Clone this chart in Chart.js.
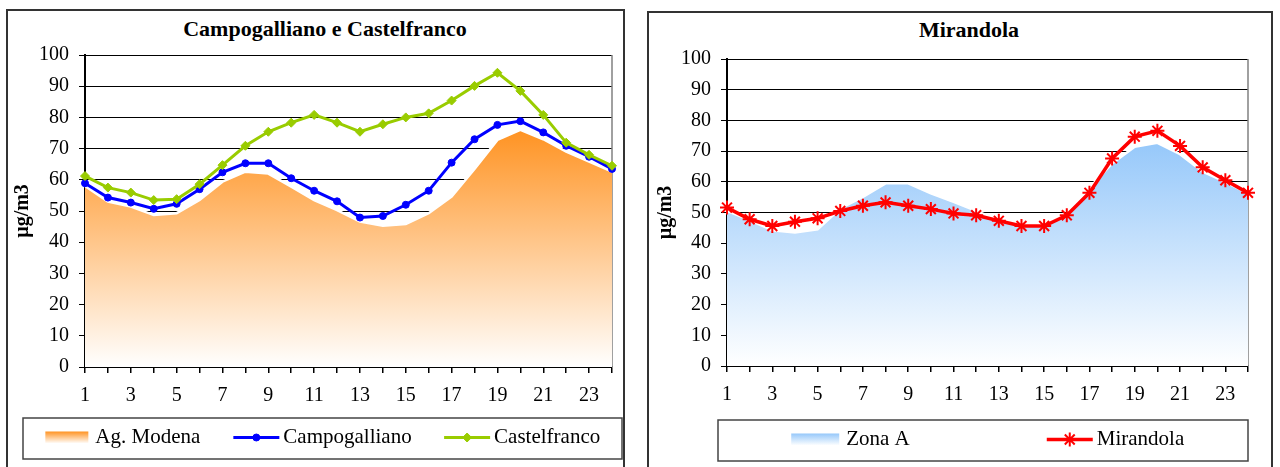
<!DOCTYPE html>
<html>
<head>
<meta charset="utf-8">
<script src="https://cdn.jsdelivr.net/npm/chart.js@4.4.1/dist/chart.umd.min.js"></script>
<style>
    body { margin: 0; background: #fff; width: 1280px; height: 467px; overflow: hidden; position: relative; font-family: "Liberation Serif", "Times New Roman", serif; }
    .frame { position: absolute; border: 2px solid #333; box-sizing: border-box; }
    #f1 { left: 6px; top: 9px; width: 619px; height: 480px; }
    #f2 { left: 647px; top: 11px; width: 626px; height: 480px; }
    canvas { position: absolute; top: 0; }
    #c1 { left: 0; }
    #c2 { left: 636px; }
    .title { position: absolute; font-weight: bold; font-size: 22px; line-height: 26px; white-space: nowrap; transform: translateX(-50%); color: #000; }
</style>
</head>
<body>
<div class="frame" id="f1"></div>
<div class="frame" id="f2"></div>
<div class="title" style="left:325px; top:16px;">Campogalliano e Castelfranco</div>
<div class="title" style="left:969px; top:17px;">Mirandola</div>
<canvas id="c1" width="636" height="467"></canvas>
<canvas id="c2" width="644" height="467"></canvas>
<script>
// hours of the day
const hours = ['1', '2', '3', '4', '5', '6', '7', '8', '9', '10', '11', '12', '13', '14', '15', '16', '17', '18', '19', '20', '21', '22', '23', '24'];

// left chart (µg/m3)
const agModena = [58, 53, 51.4, 48.7, 49.3, 53.5, 59.4, 62.6, 62, 57.8, 53.5, 50.3, 46.6, 45.3, 45.8, 49.3, 54.6, 63.5, 72.8, 76, 73, 69, 65.8, 62.6];
const campogalliano = [58.9, 54.3, 52.7, 50.7, 52.3, 57, 62.4, 65.3, 65.3, 60.5, 56.5, 53.1, 47.9, 48.4, 52, 56.5, 65.5, 73, 77.6, 78.8, 75.2, 70.9, 67.4, 63.5];
const castelfranco = [61.2, 57.5, 55.9, 53.5, 53.8, 58.6, 64.7, 70.9, 75.4, 78.3, 80.8, 78.3, 75.4, 77.8, 80, 81.3, 85.4, 90.1, 94.3, 88.5, 80.8, 71.9, 68, 64.5];

// right chart (µg/m3)
const zonaA = [50.5, 47.5, 44.2, 43.5, 44.5, 51.3, 55.1, 59.5, 59.5, 56.2, 53.5, 50.5, 47.5, 46, 45.5, 49.5, 58, 66, 71.4, 72.7, 69, 63.3, 60, 56.2];
const mirandola = [51.6, 47.8, 45.6, 47, 48.1, 50.5, 52.2, 53.3, 52.2, 51.1, 49.7, 49.1, 47.3, 45.6, 45.6, 49.1, 56.4, 67.6, 74.7, 76.6, 71.7, 64.7, 60.5, 56.4];

const yMin = 0, yMax = 100, yStep = 10;

Chart.defaults.font.family = '"Liberation Serif", "Times New Roman", serif';
Chart.defaults.color = '#000';

// vertical gradient from the top of the area down to the axis
function areaFill(topColor) {
    return function (context) {
        const chart = context.chart;
        const area = chart.chartArea;
        if (!area) return topColor;
        const y0 = chart.scales.y.getPixelForValue(Math.max(...context.dataset.data));
        const g = chart.ctx.createLinearGradient(0, y0, 0, area.bottom);
        g.addColorStop(0, topColor);
        g.addColorStop(1, '#ffffff');
        return g;
    };
}

// gray border on the right of the plot area
const plotBorder = {
    id: 'plotBorder',
    beforeDatasetsDraw(chart) {
        const { ctx, chartArea } = chart;
        ctx.save();
        ctx.strokeStyle = '#808080';
        ctx.lineWidth = 1.5;
        ctx.beginPath();
        ctx.moveTo(chartArea.right, chartArea.top);
        ctx.lineTo(chartArea.right, chartArea.bottom);
        ctx.stroke();
        ctx.restore();
    }
};

// excel-like legend in a box, items centred in equal slots
const boxLegend = {
    id: 'boxLegend',
    afterDraw(chart, args, opts) {
        const ctx = chart.ctx;
        const b = opts.box;
        ctx.save();
        ctx.strokeStyle = '#444';
        ctx.lineWidth = 1.5;
        ctx.strokeRect(b.left, b.top, b.right - b.left, b.bottom - b.top);
        ctx.font = '21px "Liberation Serif"';
        ctx.textBaseline = 'middle';
        const sets = chart.data.datasets;
        const slot = (b.right - b.left) / sets.length;
        const cy = (b.top + b.bottom) / 2 - 1;
        sets.forEach(function (ds, i) {
            const sw = ds.fill ? opts.areaSwatch : 46;
            const gap = ds.fill ? 7 : 4;
            const tw = ctx.measureText(ds.label).width;
            const x0 = b.left + slot * i + (slot - sw - gap - tw) / 2;
            if (ds.fill) {
                const g = ctx.createLinearGradient(0, cy - 6, 0, cy + 6);
                g.addColorStop(0, ds.swatchColor);
                g.addColorStop(1, '#ffffff');
                ctx.fillStyle = g;
                ctx.fillRect(x0, cy - 6, sw, 12);
            } else {
                ctx.strokeStyle = ds.borderColor;
                ctx.lineWidth = ds.borderWidth;
                ctx.beginPath();
                ctx.moveTo(x0, cy);
                ctx.lineTo(x0 + sw, cy);
                ctx.stroke();
                ctx.fillStyle = ds.pointBackgroundColor;
                ctx.strokeStyle = ds.pointBorderColor;
                ctx.lineWidth = ds.pointBorderWidth;
                Chart.helpers.drawPoint(ctx, { pointStyle: ds.pointStyle, radius: ds.pointRadius, rotation: 0, borderWidth: ds.pointBorderWidth }, x0 + sw / 2, cy);
            }
            ctx.fillStyle = '#000';
            ctx.fillText(ds.label, x0 + sw + gap, cy);
        });
        ctx.restore();
    }
};

function makeOptions(cfg) {
    return {
        responsive: false,
        animation: false,
        layout: { padding: cfg.padding },
        plugins: {
            legend: { display: false },
            title: { display: false },
            tooltip: { enabled: false },
            boxLegend: { box: cfg.legendBox, areaSwatch: cfg.areaSwatch }
        },
        scales: {
            x: {
                type: 'category',
                offset: false,
                grid: { drawOnChartArea: false, color: '#000', tickLength: 6, lineWidth: 1.5 },
                border: { color: '#000', width: 1.5 },
                ticks: {
                    autoSkip: false,
                    maxRotation: 0,
                    padding: 11,
                    font: { size: 20, lineHeight: 1.2 },
                    callback: function (val, i) { return i % 2 === 0 ? this.getLabelForValue(val) : ''; }
                },
                afterFit: function (scale) { scale.height = 45; }
            },
            y: {
                min: yMin,
                max: yMax,
                grid: { color: '#000', lineWidth: 1, tickLength: 6 },
                border: { color: '#000', width: 2 },
                ticks: { stepSize: yStep, padding: 10, font: { size: 20, lineHeight: 1.2 } },
                title: { display: true, text: 'µg/m3', font: { size: 20, weight: 'bold', lineHeight: 1.2 }, padding: { top: cfg.titlePad, bottom: 0 } },
                afterFit: function (scale) { scale.width = cfg.yWidth; }
            }
        }
    };
}

new Chart(document.getElementById('c1'), {
    type: 'line',
    data: {
        labels: hours,
        datasets: [
            {
                label: 'Ag. Modena', data: agModena, fill: 'origin', order: 3,
                backgroundColor: areaFill('#ff9322'), swatchColor: '#ff9322',
                borderColor: '#ffffff', borderWidth: 2.5, pointRadius: 0, tension: 0
            },
            {
                label: 'Campogalliano', data: campogalliano, fill: false, order: 2,
                borderColor: '#0000ff', borderWidth: 3, tension: 0,
                pointStyle: 'circle', pointRadius: 3.5, pointBackgroundColor: '#0000ff', pointBorderColor: '#0000ff', pointBorderWidth: 1
            },
            {
                label: 'Castelfranco', data: castelfranco, fill: false, order: 1,
                borderColor: '#99cc00', borderWidth: 3, tension: 0,
                pointStyle: 'rectRot', pointRadius: 4.5, pointBackgroundColor: '#99cc00', pointBorderColor: '#99cc00', pointBorderWidth: 1
            }
        ]
    },
    options: makeOptions({
        padding: { left: 0, right: 24, top: 55, bottom: 55 },
        yWidth: 85, titlePad: 10.5, areaSwatch: 43,
        legendBox: { left: 23, right: 622, top: 418, bottom: 459 }
    }),
    plugins: [plotBorder, boxLegend]
});

new Chart(document.getElementById('c2'), {
    type: 'line',
    data: {
        labels: hours,
        datasets: [
            {
                label: 'Zona A', data: zonaA, fill: 'origin', order: 2,
                backgroundColor: areaFill('#96c8fa'), swatchColor: '#96c8fa',
                borderColor: '#ffffff', borderWidth: 2.5, pointRadius: 0, tension: 0
            },
            {
                label: 'Mirandola', data: mirandola, fill: false, order: 1,
                borderColor: '#ff0000', borderWidth: 3.5, tension: 0,
                pointStyle: 'star', pointRadius: 7, pointBackgroundColor: '#ff0000', pointBorderColor: '#ff0000', pointBorderWidth: 2
            }
        ]
    },
    options: makeOptions({
        padding: { left: 0, right: 32, top: 59, bottom: 56 },
        yWidth: 91, titlePad: 18, areaSwatch: 48,
        legendBox: { left: 82, right: 612, top: 420, bottom: 461 }
    }),
    plugins: [plotBorder, boxLegend]
});
</script>
</body>
</html>
